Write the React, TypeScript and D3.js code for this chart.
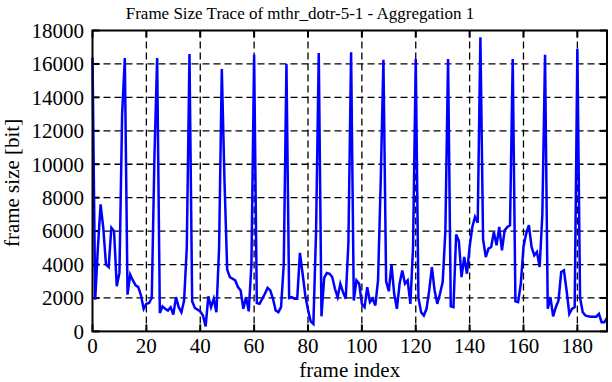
import { useEffect, useRef } from 'react';
import * as d3 from 'd3';

const title = 'Frame Size Trace of mthr_dotr-5-1 - Aggregation 1';
const xLabel = 'frame index';
const yLabel = 'frame size [bit]';

const xTicks = [0, 20, 40, 60, 80, 100, 120, 140, 160, 180];
const yTicks = [0, 2000, 4000, 6000, 8000, 10000, 12000, 14000, 16000, 18000];

// frame sizes, frames 0..191
const frameSizes = [
  16400, 1900, 5000, 7600, 6200, 4000, 3850, 6200, 6000, 2700,
  3500, 13000, 16350, 2200, 3400, 3050, 2750, 2650, 2150, 1350,
  1650, 1700, 2000, 10500, 16350, 1100, 1500, 1350, 1250, 1450,
  1000, 2050, 1450, 1150, 1850, 5000, 16600, 1800, 1400, 1300,
  1200, 950, 300, 2100, 1450, 1950, 1150, 5000, 15700, 9000,
  3700, 3250, 3150, 3050, 2650, 2450, 1350, 2050, 1200, 4000,
  16550, 1700, 1650, 1950, 2250, 2600, 2450, 1950, 1250, 1150,
  1450, 4000, 16000, 2000, 2050, 1950, 1950, 4700, 3450, 2150,
  1300, 600, 450, 6000, 16650, 900, 3200, 3500, 3450, 3250,
  2550, 2050, 2850, 2350, 1950, 5300, 16700, 1850, 3050, 2850,
  1650, 1450, 2650, 1750, 1950, 1550, 3050, 9000, 16250, 3000,
  2400, 4000, 2250, 1350, 2850, 3650, 2850, 3050, 1650, 5000,
  16300, 2000, 1150, 950, 1350, 2450, 3850, 2450, 1650, 2250,
  2950, 6000, 16300, 1500, 1450, 5800, 5400, 3250, 4450, 3450,
  5050, 6250, 6850, 6500, 17600, 5500, 4450, 4950, 5050, 5950,
  5150, 6250, 4850, 6050, 6250, 6350, 16300, 1800, 1750, 2850,
  5050, 5850, 6350, 5050, 4550, 4750, 3850, 7000, 16550, 1350,
  2050, 900, 1450, 1850, 3550, 3650, 2450, 1050, 1350, 1450,
  16900, 2000, 1150, 950, 900, 880, 880, 880, 1050, 550,
  550, 800,
];

const W = 612;
const H = 382;
const margin = { top: 30.5, right: 5, bottom: 50.6, left: 92.5 };
const font = '"Liberation Serif", "Times New Roman", serif';

export default function App() {
  const svgRef = useRef<SVGSVGElement>(null);

  useEffect(() => {
    if (!svgRef.current) return;
    const svg = d3.select(svgRef.current);
    svg.selectAll('*').remove();

    const innerWidth = W - margin.left - margin.right;
    const innerHeight = H - margin.top - margin.bottom;

    const x = d3.scaleLinear().domain([0, 191]).range([0, innerWidth]);
    const y = d3.scaleLinear().domain([0, 18000]).range([innerHeight, 0]);

    const g = svg
      .append('g')
      .attr('transform', `translate(${margin.left},${margin.top})`);

    // grid
    g.selectAll('line.vgrid')
      .data(xTicks.filter((t) => t > 0))
      .join('line')
      .attr('class', 'vgrid')
      .attr('x1', (d) => x(d))
      .attr('x2', (d) => x(d))
      .attr('y1', 0)
      .attr('y2', innerHeight)
      .attr('stroke', '#000')
      .attr('stroke-width', 1.3)
      .attr('stroke-dasharray', '7,4');

    g.selectAll('line.hgrid')
      .data(yTicks.filter((t) => t > 0 && t < 18000))
      .join('line')
      .attr('class', 'hgrid')
      .attr('x1', 0)
      .attr('x2', innerWidth)
      .attr('y1', (d) => y(d))
      .attr('y2', (d) => y(d))
      .attr('stroke', '#000')
      .attr('stroke-width', 1.3)
      .attr('stroke-dasharray', '7,4');

    // inward ticks on all four sides
    const tickLen = 7;
    const ticks = g.append('g').attr('stroke', '#000').attr('stroke-width', 2);
    yTicks.forEach((t) => {
      ticks.append('line').attr('x1', 0).attr('x2', tickLen).attr('y1', y(t)).attr('y2', y(t));
      ticks
        .append('line')
        .attr('x1', innerWidth)
        .attr('x2', innerWidth - tickLen)
        .attr('y1', y(t))
        .attr('y2', y(t));
    });
    xTicks.forEach((t) => {
      ticks
        .append('line')
        .attr('x1', x(t))
        .attr('x2', x(t))
        .attr('y1', innerHeight)
        .attr('y2', innerHeight - tickLen);
      ticks.append('line').attr('x1', x(t)).attr('x2', x(t)).attr('y1', 0).attr('y2', tickLen);
    });

    // trace
    const line = d3
      .line<number>()
      .x((_, i) => x(i))
      .y((d) => y(d));

    g.append('path')
      .datum(frameSizes)
      .attr('fill', 'none')
      .attr('stroke', '#0000ff')
      .attr('stroke-width', 2.5)
      .attr('stroke-linejoin', 'miter')
      .attr('d', line);

    // border
    g.append('rect')
      .attr('x', 0)
      .attr('y', 0)
      .attr('width', innerWidth)
      .attr('height', innerHeight)
      .attr('fill', 'none')
      .attr('stroke', '#000')
      .attr('stroke-width', 2);

    // tick labels
    g.selectAll('text.ylab')
      .data(yTicks)
      .join('text')
      .attr('class', 'ylab')
      .attr('x', -8.5)
      .attr('y', (d) => y(d))
      .attr('dy', '0.35em')
      .attr('text-anchor', 'end')
      .attr('font-family', font)
      .attr('font-size', 21)
      .text((d) => d);

    g.selectAll('text.xlab')
      .data(xTicks)
      .join('text')
      .attr('class', 'xlab')
      .attr('x', (d) => x(d))
      .attr('y', innerHeight + 21.5)
      .attr('text-anchor', 'middle')
      .attr('font-family', font)
      .attr('font-size', 21)
      .text((d) => d);

    // axis titles
    g.append('text')
      .attr('x', innerWidth / 2)
      .attr('y', innerHeight + 46)
      .attr('text-anchor', 'middle')
      .attr('font-family', font)
      .attr('font-size', 21)
      .text(xLabel);

    g.append('text')
      .attr('transform', `translate(${-margin.left + 19},${innerHeight / 2 + 2}) rotate(-90)`)
      .attr('text-anchor', 'middle')
      .attr('font-family', font)
      .attr('font-size', 21)
      .text(yLabel);

    svg
      .append('text')
      .attr('x', 300)
      .attr('y', 19)
      .attr('text-anchor', 'middle')
      .attr('font-family', font)
      .attr('font-size', 17)
      .text(title);
  }, []);

  return (
    <svg
      ref={svgRef}
      width={W}
      height={H}
      style={{ position: 'absolute', left: 0, top: 0, background: '#fff' }}
    />
  );
}
